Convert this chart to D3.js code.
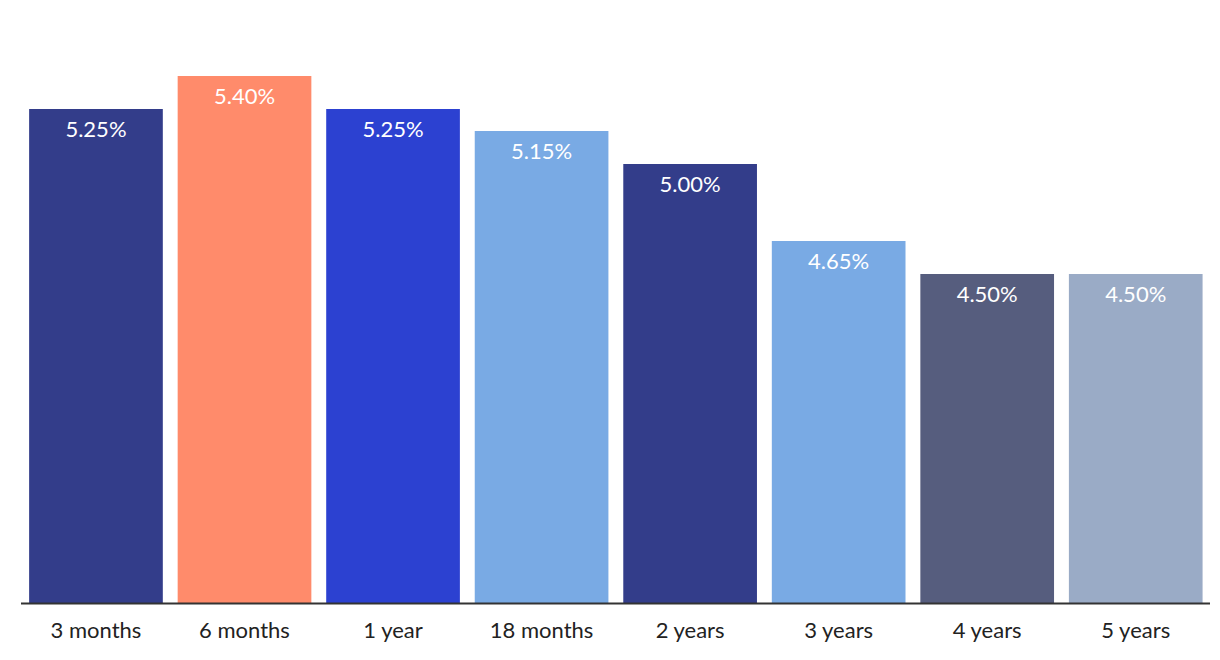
<!DOCTYPE html>
<html>
<head>
<meta charset="utf-8">
<script src="https://cdn.jsdelivr.net/npm/d3@7/dist/d3.min.js"></script>
<style>
  html, body { margin: 0; padding: 0; background: #fff; }
  svg { display: block; }
  text { font-family: "Source Sans Pro", Lato, "Noto Sans", sans-serif; }
</style>
</head>
<body>
<svg id="chart" width="1220" height="660"></svg>
<script>
const categories = ["3 months", "6 months", "1 year", "18 months", "2 years", "3 years", "4 years", "5 years"];
const rates = [5.25, 5.40, 5.25, 5.15, 5.00, 4.65, 4.50, 4.50];
const colors = ["#333d8a", "#ff8b6b", "#2c41d1", "#79aae4", "#333d8a", "#79aae4", "#565d7e", "#9aabc6"];

const svg = d3.select("#chart");
const baseY = 604;

const x = d3.scaleBand()
  .domain(categories)
  .range([21.7, 1210])
  .paddingInner(0.1)
  .paddingOuter(0.05);

const y = d3.scaleLinear()
  .domain([3, 5.7])
  .range([baseY, baseY - 2.7 * 220]);

const data = categories.map((c, i) => ({ c, v: rates[i], col: colors[i] }));

svg.append("g").selectAll("rect")
  .data(data)
  .join("rect")
  .attr("x", d => x(d.c))
  .attr("y", d => y(d.v))
  .attr("width", x.bandwidth())
  .attr("height", d => baseY - y(d.v))
  .attr("fill", d => d.col);

svg.append("g").selectAll("text")
  .data(data)
  .join("text")
  .attr("x", d => x(d.c) + x.bandwidth() / 2)
  .attr("y", d => y(d.v) + 28)
  .attr("text-anchor", "middle")
  .attr("fill", "#ffffff")
  .attr("font-size", 22)
  .text(d => d.v.toFixed(2) + "%");

const axis = d3.axisBottom(x).tickSize(0).tickPadding(0);
const gx = svg.append("g")
  .attr("transform", `translate(0,${baseY - 0.5})`)
  .call(axis);
gx.select(".domain").attr("stroke", "#333").attr("stroke-width", 2).attr("d", "M21,0H1210");
gx.selectAll(".tick text")
  .attr("y", 34.5)
  .attr("dy", null)
  .attr("fill", "#222")
  .attr("font-size", 22)
  .style("font-family", "\"Source Sans Pro\", Lato, \"Noto Sans\", sans-serif");
</script>
</body>
</html>
